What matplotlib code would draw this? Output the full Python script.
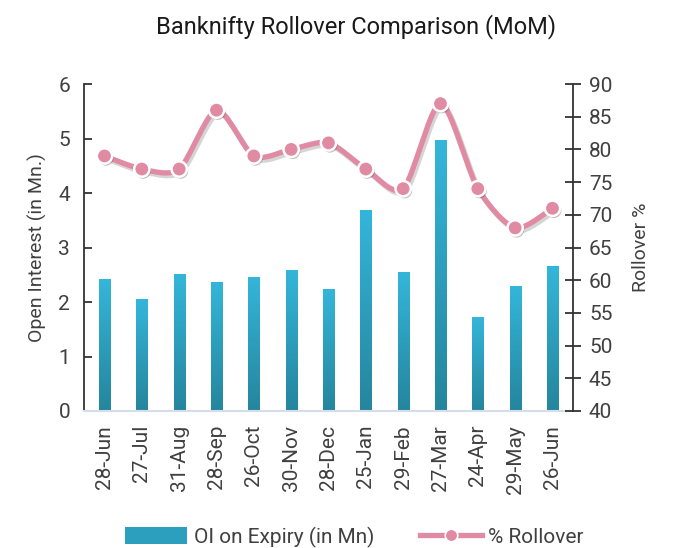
import numpy as np
import matplotlib
matplotlib.use("Agg")
import matplotlib.pyplot as plt
import matplotlib.patheffects as pe
from matplotlib.colors import LinearSegmentedColormap
from matplotlib.lines import Line2D
from matplotlib.patches import Rectangle

plt.rcParams['font.family'] = ['Roboto', 'DejaVu Sans']

# data
expiry = ['28-Jun', '27-Jul', '31-Aug', '28-Sep', '26-Oct', '30-Nov', '28-Dec',
          '25-Jan', '29-Feb', '27-Mar', '24-Apr', '29-May', '26-Jun']
oi_mn = [2.42, 2.05, 2.51, 2.37, 2.46, 2.59, 2.24, 3.69, 2.55, 4.97, 1.72, 2.29, 2.66]
rollover = [79, 77, 77, 86, 79, 80, 81, 77, 74, 87, 74, 68, 71]

text_col = '#404040'
pink = '#e08aa3'

fig = plt.figure(figsize=(6.75, 5.48), dpi=100)
ax = fig.add_axes([0.1244, 0.25, 0.7245, 0.5967])
ax2 = ax.twinx()

x = np.arange(len(expiry))
bars = ax.bar(x, oi_mn, width=0.3, color='none', zorder=2)

# vertical gradient fill for bars
cmap = LinearSegmentedColormap.from_list('oi', ['#25859d', '#34b6da'])
grad = np.linspace(0, 1, 256).reshape(-1, 1)
for b in bars:
    bx, by = b.get_x(), b.get_y()
    w, h = b.get_width(), b.get_height()
    im = ax.imshow(grad, cmap=cmap, origin='lower', aspect='auto',
                   extent=[bx, bx + w, by, by + h], zorder=2)
    im.set_clip_path(b)

ax.set_xlim(-0.55, len(expiry) - 0.45)
ax.set_ylim(0, 6)
ax2.set_ylim(40, 90)

# smoothed line through the rollover points (cardinal spline)
def smooth(xs, ys, n=20, k=0.4):
    xs = np.asarray(xs, float); ys = np.asarray(ys, float)
    px = np.concatenate([[xs[0]], xs, [xs[-1]]])
    py = np.concatenate([[ys[0]], ys, [ys[-1]]])
    ox, oy = [], []
    t = np.linspace(0, 1, n, endpoint=False)
    h00 = 2 * t**3 - 3 * t**2 + 1
    h10 = t**3 - 2 * t**2 + t
    h01 = -2 * t**3 + 3 * t**2
    h11 = t**3 - t**2
    for i in range(1, len(px) - 2):
        for p, o in ((px, ox), (py, oy)):
            m1 = k * (p[i + 1] - p[i - 1])
            m2 = k * (p[i + 2] - p[i])
            o.extend(h00 * p[i] + h10 * m1 + h01 * p[i + 1] + h11 * m2)
    ox.append(xs[-1]); oy.append(ys[-1])
    return np.array(ox), np.array(oy)

sx, sy = smooth(x, rollover)
shadow = [pe.SimpleLineShadow(offset=(1.5, -2), shadow_color='#888888', alpha=0.35), pe.Normal()]
ax2.plot(sx, sy, color=pink, lw=3.8, solid_capstyle='round', zorder=3, path_effects=shadow)
ax2.plot(x, rollover, ls='none', marker='o', ms=11, mfc=pink, mec='white', mew=1.8, zorder=4,
         path_effects=[pe.SimplePatchShadow(offset=(1, -1.5), alpha=0.3), pe.Normal()])

# axes styling
for a in (ax, ax2):
    a.spines['top'].set_visible(False)
ax.spines['right'].set_visible(False)
ax2.spines['left'].set_visible(False)
ax.spines['left'].set_color('#333333')
ax.spines['left'].set_linewidth(1.3)
ax2.spines['right'].set_color('#333333')
ax2.spines['right'].set_linewidth(1.3)
ax.spines['bottom'].set_color('#d3deea')
ax.spines['bottom'].set_linewidth(1.5)
ax2.spines['bottom'].set_visible(False)

ax.set_yticks(range(0, 7))
ax2.set_yticks(range(40, 91, 5))
ax.tick_params(axis='y', direction='in', length=6, width=1.3, color='#333333',
               labelsize=15, labelcolor=text_col, pad=10)
ax2.tick_params(axis='y', direction='inout', length=11, width=1.3, color='#333333',
                labelsize=15, labelcolor=text_col, pad=6)
ax.set_xticks(x)
ax.set_xticklabels(expiry, rotation=90, fontsize=15, color=text_col)
ax.tick_params(axis='x', length=0, pad=10)

ax.set_ylabel('Open Interest (in Mn.)', fontsize=14, color=text_col, labelpad=8)
ax2.set_ylabel('Rollover %', fontsize=14, color=text_col, labelpad=14)

fig.suptitle('Banknifty Rollover Comparison (MoM)', fontsize=17, color='#1a1a1a',
             x=0.527, y=0.975)

# legend
h1 = Rectangle((0, 0), 1, 1, facecolor='#2c9fbf', edgecolor='none')
h2 = Line2D([], [], color=pink, lw=3.8, marker='o', ms=9, mfc=pink, mec='white', mew=1.2)
fig.legend([h1, h2], ['OI on Expiry (in Mn)', '% Rollover'], loc='center',
           bbox_to_anchor=(0.525, 0.02), ncol=2, frameon=False, fontsize=15,
           handlelength=3.0, handleheight=0.9, columnspacing=2.2, handletextpad=0.3,
           labelcolor=text_col)

fig.savefig('out.png', dpi=100)
